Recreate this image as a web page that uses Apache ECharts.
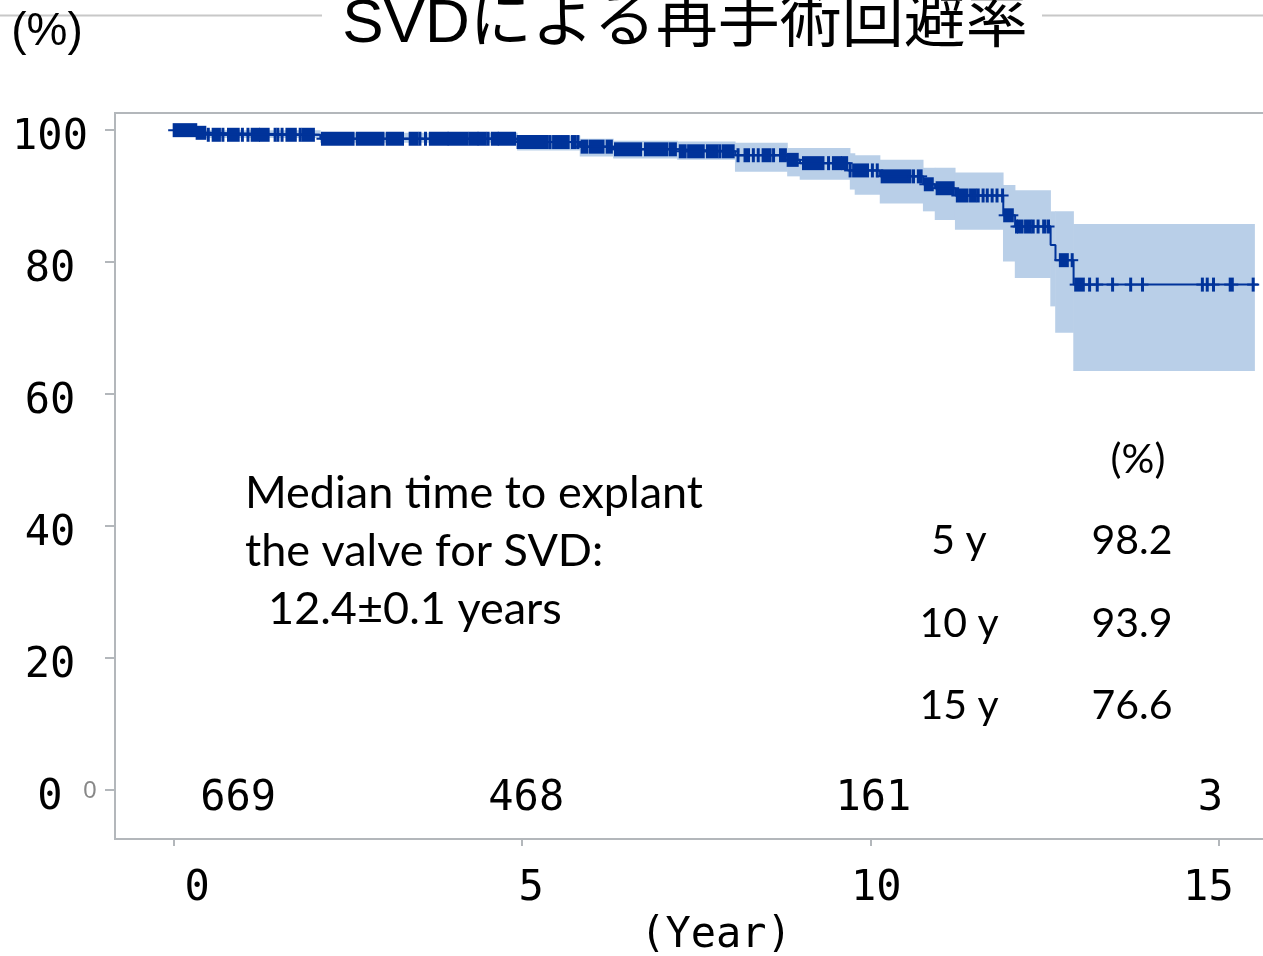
<!DOCTYPE html>
<html>
<head>
<meta charset="utf-8">
<script src="https://cdn.jsdelivr.net/npm/echarts@6/dist/echarts.min.js"></script>
<style>
html,body{margin:0;padding:0;background:#fff;}
#c{width:1263px;height:956px;}
</style>
</head>
<body>
<div id="c"></div>
<script>
// ---- data ----
const title = 'SVDによる再手術回避率';
const xTicks = [0, 5, 10, 15];
const yTicks = [0, 20, 40, 60, 80, 100];

// Kaplan-Meier step curve (years, %)
const stepTimes = [0, 0.32, 0.45, 2.10, 4.93, 5.83, 6.31, 7.23, 8.06, 8.81, 8.99, 9.71, 10.14, 10.76, 10.93, 11.22, 11.91, 12.08, 12.59, 12.66, 12.92, 15.57];
const stepSurv  = [100, 99.6, 99.3, 98.7, 98.2, 97.5, 97.1, 96.8, 96.2, 95.5, 95.0, 93.9, 93.0, 91.8, 91.2, 90.1, 87.1, 85.4, 82.6, 80.3, 76.6, 76.6];

// confidence band
const bandTimes = [0, 0.32, 0.45, 2.10, 4.93, 5.83, 6.31, 7.23, 8.06, 8.81, 8.99, 9.71, 9.78, 10.14, 10.76, 10.93, 11.22, 11.91, 12.08, 12.59, 12.66, 12.92, 15.52];
const bandUpper = [100, 100, 100, 99.6, 99.2, 98.7, 98.4, 98.3, 98.1, 97.3, 97.3, 96.5, 96.2, 95.5, 94.3, 94.3, 93.6, 91.7, 90.9, 87.7, 87.7, 85.8, 85.8];
const bandLower = [100, 99.2, 98.8, 98.1, 96.9, 96.0, 95.7, 95.5, 93.7, 93.0, 92.5, 91.0, 90.2, 88.9, 87.7, 86.4, 84.9, 80.1, 77.6, 73.3, 69.3, 63.5, 63.5];

// censored observations (single times or dense runs [from, to])
const censored = [[0,0.31],[0.33,0.44],0.49,[0.56,0.65],0.70,[0.78,0.92],0.98,1.06,[1.12,1.21],[1.24,1.35],1.45,1.49,1.55,[1.62,1.74],1.81,[1.85,2.00],
  [2.13,2.57],[2.63,3.00],[3.06,3.28],[3.39,3.49],3.53,3.61,[3.68,3.92],[3.95,4.21],[4.25,4.35],[4.38,4.47],4.51,[4.57,4.64],[4.67,4.89],
  [4.94,5.36],5.40,[5.45,5.55],[5.59,5.66],[5.72,5.76],5.80,[5.86,5.93],[5.98,6.16],[6.22,6.28],[6.34,6.70],[6.77,7.08],[7.13,7.20],
  [7.27,7.34],[7.39,7.60],[7.66,7.80],7.84,[7.89,8.03],8.10,[8.20,8.25],8.32,8.39,[8.46,8.56],8.61,[8.71,8.78],[8.82,8.95],
  [9.04,9.32],9.40,[9.47,9.57],[9.60,9.66],9.71,[9.76,9.96],10.03,10.10,[10.17,10.57],10.62,[10.69,10.73],[10.79,10.89],[10.96,11.19],
  [11.25,11.39],[11.44,11.51],11.55,11.62,11.68,11.75,11.82,11.90,[11.93,12.04],12.10,[12.13,12.18],[12.23,12.30],12.34,12.41,[12.49,12.51],12.56,
  [12.73,12.83],12.90,[12.95,13.06],13.15,13.26,13.48,13.74,13.91,14.77,14.84,14.93,[15.17,15.20],15.50];

// numbers at risk
const riskTimes = [0, 5, 10, 15];
const riskCounts = [669, 468, 161, 3];

// survival table
const tableLabels = ['5 y', '10 y', '15 y'];
const tableValues = ['98.2', '93.9', '76.6'];

const noteLines = ['Median time to explant', 'the valve for SVD:', '  12.4±0.1 years'];

// ---- build ----
const BLUE = '#00339a';
const BAND = '#b9cfe8';
const GRAY = '#b3b7bb';
const MONO = '"DejaVu Sans Mono", monospace';
const NOTE = 'Lato, "Open Sans", sans-serif';

function survAt(t) {
  let s = stepSurv[0];
  for (let i = 0; i < stepTimes.length; i++) { if (stepTimes[i] <= t + 1e-9) s = stepSurv[i]; }
  return s;
}

const lineData = stepTimes.map((t, i) => [t, stepSurv[i]]);
const bandData = bandTimes.slice(0, -1).map((t, i) => [t, bandTimes[i + 1], bandUpper[i], bandLower[i]]);
const censorData = censored.map(c => Array.isArray(c) ? [c[0], c[1]] : [c, c]);
const riskData = riskTimes.map((t, i) => ({ value: [t, 0], count: riskCounts[i] }));
const riskOffsets = [[64, 9], [4, 9], [3, 9], [-8, 9]];

const xLabelShift = { 0: 46, 5: 18, 10: 12, 15: -20 };

const chart = echarts.init(document.getElementById('c'));
const graphics = [
  { type: 'line', shape: { x1: 0, y1: 15.5, x2: 322, y2: 15.5 }, style: { stroke: '#c8c8c8', lineWidth: 2 } },
  { type: 'line', shape: { x1: 1042, y1: 15.5, x2: 1263, y2: 15.5 }, style: { stroke: '#c8c8c8', lineWidth: 2 } },
  { type: 'text', x: 47, y: 32, style: { text: '(%)', font: '46px "Liberation Sans", Arial, sans-serif', fill: '#000', textAlign: 'center', textVerticalAlign: 'middle' } },
  { type: 'text', x: 685, y: 25, style: { text: title, font: '62px "Liberation Sans", "Noto Sans CJK JP", sans-serif', fill: '#000', textAlign: 'center', textVerticalAlign: 'middle' } },
  { type: 'text', x: 90, y: 791, style: { text: '0', font: '24px "Liberation Sans", sans-serif', fill: '#888', textAlign: 'center', textVerticalAlign: 'middle' } },
  { type: 'text', x: 1138, y: 460, style: { text: '(%)', font: '41px ' + NOTE, fill: '#000', textAlign: 'center', textVerticalAlign: 'middle' } }
];
noteLines.forEach((s, i) => {
  graphics.push({ type: 'text', x: 245, y: 493 + i * 58, style: { text: s, font: '45px ' + NOTE, fill: '#000', textAlign: 'left', textVerticalAlign: 'middle' } });
});
tableLabels.forEach((s, i) => {
  graphics.push({ type: 'text', x: 959, y: 541 + i * 82.5, style: { text: s, font: '41px ' + NOTE, fill: '#000', textAlign: 'center', textVerticalAlign: 'middle' } });
  graphics.push({ type: 'text', x: 1132, y: 541 + i * 82.5, style: { text: tableValues[i], font: '41px ' + NOTE, fill: '#000', textAlign: 'center', textVerticalAlign: 'middle' } });
});

const xRich = {};
xTicks.forEach(v => {
  const s = xLabelShift[v];
  xRich['l' + v] = { fontSize: 42, fontFamily: MONO, color: '#000', padding: s >= 0 ? [0, 0, 0, s] : [0, -s, 0, 0] };
});

chart.setOption({
  animation: false,
  backgroundColor: '#fff',
  grid: { left: 115, width: 1173, top: 113, height: 726, outerBoundsMode: 'none', containLabel: false, show: true, borderColor: GRAY, borderWidth: 2, backgroundColor: 'transparent' },
  xAxis: {
    type: 'value', min: -0.85, max: 16,
    splitLine: { show: false },
    axisLine: { show: false, onZero: false },
    axisTick: { show: true, length: 7, lineStyle: { color: GRAY, width: 2 }, customValues: xTicks },
    axisLabel: {
      customValues: xTicks, margin: 29,
      formatter: v => '{l' + v + '|' + v + '}',
      rich: xRich
    },
    name: '(Year)', nameLocation: 'middle', nameGap: 70,
    nameTextStyle: { fontSize: 42, fontFamily: MONO, color: '#000', padding: [0, 0, 0, 29] }
  },
  yAxis: {
    type: 'value', min: -7.4, max: 102.6,
    splitLine: { show: false },
    axisLine: { show: false, onZero: false },
    axisTick: { show: true, length: 10, lineStyle: { color: GRAY, width: 2 }, customValues: yTicks },
    axisLabel: {
      customValues: yTicks, margin: 65, align: 'center',
      formatter: v => '{a|' + v + '}',
      rich: { a: { fontSize: 42, fontFamily: MONO, color: '#000', padding: [16, 0, 0, 0] } }
    }
  },
  graphic: graphics,
  series: [
    {
      type: 'custom', data: bandData, encode: { x: [0, 1], y: [2, 3] }, z: 1, silent: true,
      renderItem: (params, api) => {
        const a = api.coord([api.value(0), api.value(2)]);
        const b = api.coord([api.value(1), api.value(3)]);
        return { type: 'rect', shape: { x: a[0] - 0.3, y: a[1], width: b[0] - a[0] + 0.6, height: b[1] - a[1] }, style: { fill: BAND } };
      }
    },
    { type: 'line', data: lineData, step: 'end', symbol: 'none', lineStyle: { color: BLUE, width: 2 }, z: 3 },
    {
      type: 'custom', data: censorData, encode: { x: [0, 1] }, z: 4,
      renderItem: (params, api) => {
        const t0 = api.value(0), t1 = api.value(1);
        const s = survAt(t0);
        const p0 = api.coord([t0, s]), p1 = api.coord([t1, s]);
        const w = p1[0] - p0[0];
        return {
          type: 'group', children: [
            { type: 'rect', shape: { x: p0[0] - 1.5, y: p0[1] - 7, width: w + 3, height: 14 }, style: { fill: BLUE } },
            { type: 'rect', shape: { x: p0[0] - 6, y: p0[1] - 1, width: w + 12, height: 2 }, style: { fill: BLUE } }
          ]
        };
      }
    },
    {
      type: 'scatter', data: riskData, symbolSize: 0, z: 5, itemStyle: { opacity: 1 },
      label: {
        show: true, position: 'inside', fontSize: 42, fontFamily: MONO, color: '#000', textBorderWidth: 0, opacity: 1,
        formatter: p => String(p.data.count)
      },
      labelLayout: p => ({ dx: riskOffsets[p.dataIndex][0], dy: riskOffsets[p.dataIndex][1] })
    }
  ]
});
</script>
</body>
</html>
